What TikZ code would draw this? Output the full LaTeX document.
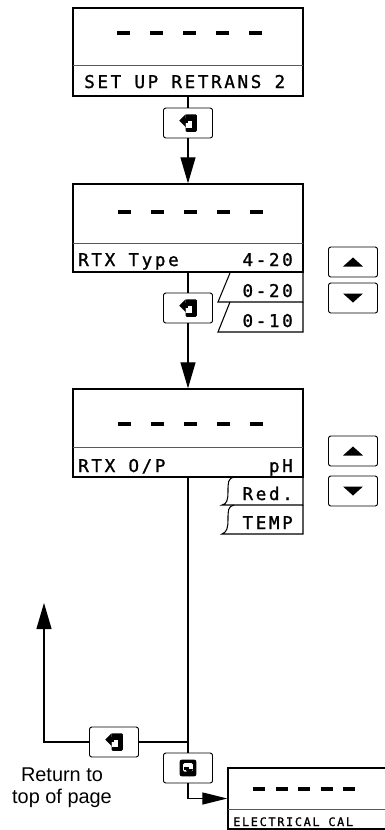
\documentclass[tikz,border=0pt]{standalone}
\usepackage{fontspec}
\setmainfont{Liberation Sans}
\newfontfamily\lcdfont[LetterSpace=15, FakeBold=1.2]{DejaVu Sans Mono}
\usetikzlibrary{arrows.meta,positioning}

\begin{document}
\begin{tikzpicture}[
    x=0.03cm, y=-0.03cm,
    display/.style={rectangle, draw, line width=1.1pt, minimum width=6.9cm, minimum height=2.64cm, inner sep=0pt},
    key/.style={rectangle, draw, rounded corners=2pt, line width=0.8pt, minimum width=1.47cm, minimum height=0.9cm, inner sep=0pt},
    flow/.style={line width=1pt},
    arrow/.style={flow, -{Triangle[length=0.78cm, width=0.45cm]}},
    divider/.style={black!65, line width=0.8pt},
    lcddash/.style={line width=3.4pt},
    lcd/.style={font=\lcdfont\fontsize{15}{15}\selectfont, inner sep=0pt},
    tab/.style={line width=0.9pt},
    entericon/.pic={
        \begin{scope}[scale=1.25]
        \fill[rounded corners=1pt] (-2,-7) rectangle (7,7);
        \fill[white] (-2,-2) rectangle (3,4);
        \fill (-7,-2) -- (-2,-7) -- (-2,3) -- cycle;
        \fill (-3,-4) rectangle (0,0);
        \end{scope}
    },
    skipicon/.pic={
        \begin{scope}[scale=1.2]
        \fill[rounded corners=2pt] (-7,-7) rectangle (7,7);
        \fill[white, rounded corners=1pt] (-4,-4) rectangle (4,3);
        \fill (-3,-1) rectangle (1,2);
        \fill (-2,1) -- (4,1) -- (1,7) -- cycle;
        \end{scope}
    },
    uptri/.pic={\fill (-10,4.5) -- (10,4.5) -- (0,-4.5) -- cycle;},
    downtri/.pic={\fill (-10,-4.5) -- (10,-4.5) -- (0,4.5) -- cycle;}
]
\useasboundingbox (0,0) rectangle (384,830);

% Set up retrans display
\node[display] (box1) at (188,52) {};
\draw[divider] (73,65) -- (303,65);
\foreach \i in {0,...,4}
    \draw[lcddash] ({117+33*\i},33) -- ++(13,0);
\node[lcd, anchor=base west] (title1) at (84,88) {SET UP RETRANS 2};

\node[key] (ent1) at (188,123) {};
\pic at (ent1) {entericon};

% RTX type display
\node[display] (box2) at (188,228) {};
\draw[divider] (73,243) -- (303,243);
\foreach \i in {0,...,4}
    \draw[lcddash] ({118+33*\i},212) -- ++(13,0);
\node[lcd, anchor=base west] (type) at (78,266) {RTX Type};
\node[lcd, anchor=base east] (t420) at (293,266) {4-20};

% 0-20 / 0-10 options
\draw[tab] (230,273) -- (218,302) -- (303,302) -- (303,273);
\draw[tab] (230,302) -- (218,332) -- (303,332) -- (303,302);
\node[lcd, anchor=base east] (t020) at (293,297) {0-20};
\node[lcd, anchor=base east] (t010) at (293,327) {0-10};

\node[key] (upA) at (353,262) {};
\pic at (upA) {uptri};
\node[key] (downA) at (353,298) {};
\pic at (downA) {downtri};

\node[key] (ent2) at (188,308) {};
\pic at (ent2) {entericon};

% RTX output display
\node[display] (box3) at (188,433) {};
\draw[divider] (73,447) -- (303,447);
\foreach \i in {0,...,4}
    \draw[lcddash] ({118+33*\i},424) -- ++(13,0);
\node[lcd, anchor=base west] (output) at (78,472) {RTX O/P};
\node[lcd, anchor=base east] (tph) at (293,472) {pH};

% Red. / TEMP options
\draw[tab] (234,477) .. controls (228,478) and (228,483) .. (228,491)
    .. controls (228,500) and (227,504) .. (222,505) -- (303,505) -- (303,477);
\draw[tab] (234,505) .. controls (228,506) and (228,511) .. (228,519)
    .. controls (228,528) and (227,532) .. (222,534) -- (303,534) -- (303,505);
\node[lcd, anchor=base east] (tred) at (293,500) {Red.};
\node[lcd, anchor=base east] (ttemp) at (293,529) {TEMP};

\node[key] (upB) at (353,451) {};
\pic at (upB) {uptri};
\node[key] (downB) at (353,491) {};
\pic at (downB) {downtri};

% Return and skip keys
\node[key] (ret) at (114,742) {};
\pic at (ret) {entericon};
\node[key] (skip) at (188,768) {};
\pic at (skip) {skipicon};
\node[align=center, font=\fontsize{17}{19}\selectfont, inner sep=0pt] (back) at (62,788) {Return to\\top of page};

\coordinate (branch) at (188,742);
\coordinate (top) at (44,603);

% Electrical cal display
\node[rectangle, draw, line width=1.1pt, minimum width=4.77cm, minimum height=1.83cm, inner sep=0pt] (box4) at (307.5,798.5) {};
\draw[divider] (228,809) -- (387,809);
\foreach \i in {0,...,4}
    \draw[line width=2.6pt] ({253+22.6*\i},789) -- ++(12,0);
\node[lcd, font=\lcdfont\fontsize{10}{10}\selectfont, anchor=base west] (ecal) at (233,826) {ELECTRICAL CAL};

% Arrows
\draw[flow] (box1.south) -- (ent1.north);
\draw[arrow] (ent1.south) -- (box2.north);
\draw[flow] (box2.south) -- (ent2.north);
\draw[arrow] (ent2.south) -- (box3.north);
\draw[flow] (box3.south) -- (skip.north);
\draw[flow] (branch) -- (ret.east);
\draw[arrow] (ret.west) -| (top);
\draw[arrow, -{Triangle[length=0.75cm, width=0.36cm]}] (skip.south) |- (box4.west);

\end{tikzpicture}
\end{document}
